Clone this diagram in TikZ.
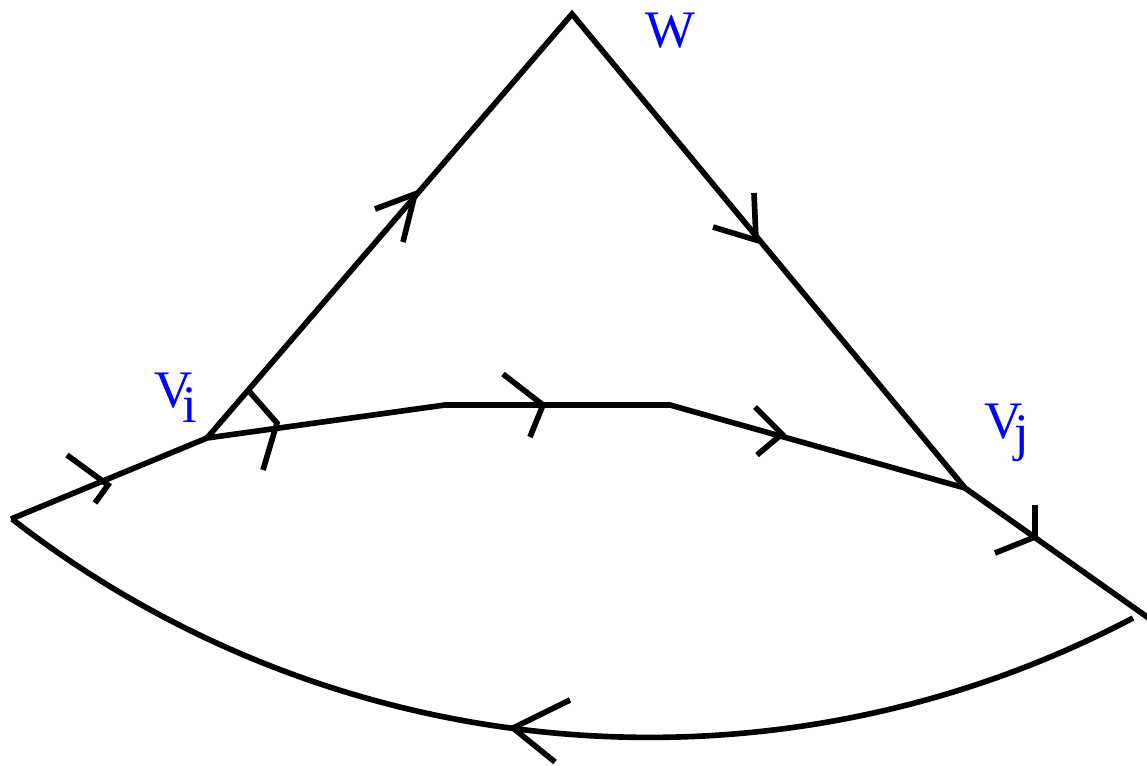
\documentclass[tikz,border=0pt]{standalone}
\usepackage{fontspec}
\setmainfont{Liberation Serif}
\begin{document}
\begin{tikzpicture}[x=0.01cm,y=-0.01cm,line width=1.6pt,
  edge/.style={draw=black,line width=1.6pt},
  wing/.style={draw=black,line width=1.6pt},
  lbl/.style={text=blue,font=\fontsize{15}{18}\selectfont,inner sep=0pt,anchor=base west}]
\useasboundingbox (0,0) rectangle (1147,766);
% vertices
\coordinate (W) at (572,14);
\coordinate (Vi) at (207,438);
\coordinate (Vj) at (965,488);
\coordinate (L) at (11,519);
\coordinate (R) at (1150,619);
\coordinate (M1) at (445,405);
\coordinate (M2) at (670,405);
\coordinate (A) at (1133,618);
% edges
\draw[edge] (Vi) -- (W) -- (Vj) -- (R);
\draw[edge] (L) -- (Vi) -- (M1) -- (M2) -- (Vj);
\draw[edge] (A) arc[start angle=62.26,end angle=127.83,radius=1039.1];
% arrow heads
\coordinate (t1) at (415,194); \coordinate (t1a) at (375,209); \coordinate (t1b) at (403,242);
\coordinate (t2) at (756,240); \coordinate (t2a) at (754,193); \coordinate (t2b) at (713,227);
\coordinate (t3) at (277,423); \coordinate (t3a) at (248,390); \coordinate (t3b) at (263,470);
\coordinate (t4) at (543,405); \coordinate (t4a) at (503,374); \coordinate (t4b) at (530,437);
\coordinate (t5) at (782,434); \coordinate (t5a) at (755,407); \coordinate (t5b) at (757,455);
\coordinate (t6) at (1035,537); \coordinate (t6a) at (1035,505); \coordinate (t6b) at (995,553);
\coordinate (t7) at (513,728); \coordinate (t7a) at (570,700); \coordinate (t7b) at (555,762);
\coordinate (t8) at (108,485); \coordinate (t8a) at (67,455); \coordinate (t8b) at (95,503);
\foreach \t in {t1,t2,t3,t4,t5,t6,t7,t8}{
  \draw[wing] (\t a) -- (\t) -- (\t b);
}
% labels
\node[lbl] (lw) at (643,47) {W};
\node[lbl] (lvi) at (152,407) {V\kern-0.1cm\raisebox{-0.15cm}{i}};
\node[lbl] (lvj) at (982,438) {V\kern-0.08cm\raisebox{-0.12cm}{j}};
\end{tikzpicture}
\end{document}
